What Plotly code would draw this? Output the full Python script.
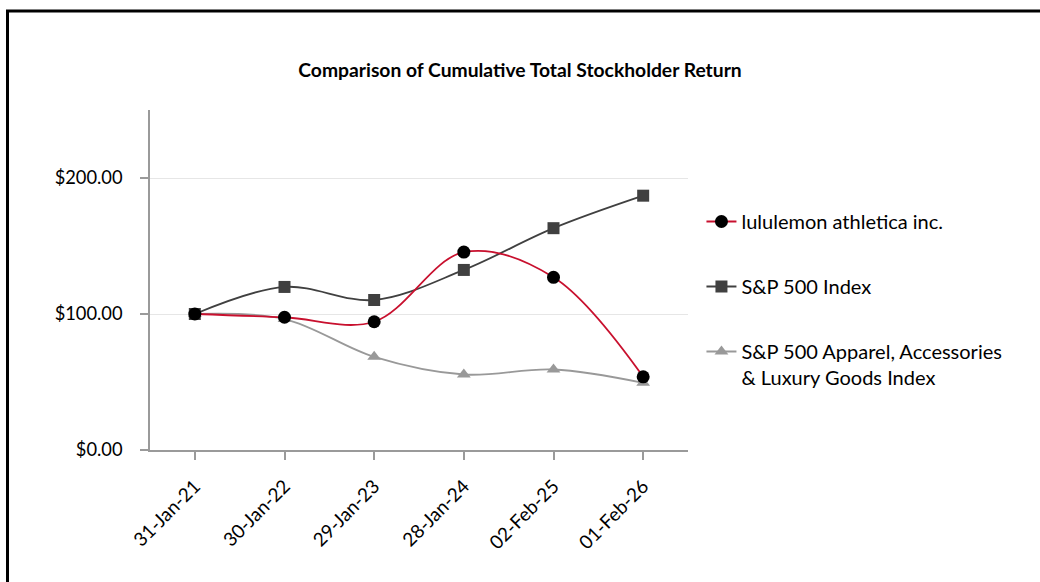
import plotly.graph_objects as go

dates = ["31-Jan-21", "30-Jan-22", "29-Jan-23", "28-Jan-24", "02-Feb-25", "01-Feb-26"]
lululemon = [100.0, 97.6, 94.3, 145.5, 127.0, 53.8]
sp500 = [100.0, 119.9, 110.3, 132.4, 163.1, 187.0]
apparel = [100.0, 96.3, 68.5, 55.5, 59.2, 49.4]
y_ticks = [0, 100, 200]
y_labels = ["$0.00", "$100.00", "$200.00"]

FONT = "Lato, 'Open Sans', sans-serif"

fig = go.Figure()
fig.add_trace(go.Scatter(
    x=dates, y=apparel, name="S&P 500 Apparel, Accessories<br>& Luxury Goods Index",
    mode="lines+markers", line=dict(color="#999999", width=1.8, shape="spline", smoothing=1),
    marker=dict(symbol="triangle-up", size=12, color="#999999"), legendgroup="c", legendrank=3))
fig.add_trace(go.Scatter(
    x=dates, y=sp500, name="S&P 500 Index",
    mode="lines+markers", line=dict(color="#404040", width=1.8, shape="spline", smoothing=1),
    marker=dict(symbol="square", size=12, color="#404040"), legendgroup="b", legendrank=2))
fig.add_trace(go.Scatter(
    x=dates, y=lululemon, name="lululemon athletica inc.",
    mode="lines+markers", line=dict(color="#C8102E", width=1.8, shape="spline", smoothing=1),
    marker=dict(symbol="circle", size=13, color="#000000"), legendgroup="a", legendrank=1))

fig.update_layout(
    width=1040, height=582,
    margin=dict(l=150, r=352, t=110, b=132),
    paper_bgcolor="white", plot_bgcolor="white",
    font=dict(family=FONT, size=17, color="#000000"),
    title=dict(text="<b>Comparison of Cumulative Total Stockholder Return</b>",
               x=0.5, xref="container", xanchor="center", y=1 - 70 / 582, yref="container",
               yanchor="middle", font=dict(family=FONT, size=19.3, color="#000000")),
    showlegend=True,
    legend=dict(x=1.025, y=(450 - 202) / 340, xanchor="left", yanchor="top",
                traceorder="grouped", tracegroupgap=36, valign="top",
                font=dict(family=FONT, size=20, color="#000000"),
                bgcolor="rgba(0,0,0,0)"),
    shapes=[dict(type="rect", xref="paper", yref="paper",
                 x0=(7.5 - 150) / 538, x1=(1050 - 150) / 538,
                 y0=(450 - 600) / 340, y1=(450 - 11) / 340,
                 line=dict(color="#000000", width=3), fillcolor="rgba(0,0,0,0)", layer="below")],
)
fig.update_xaxes(
    type="category", range=[-0.5, 5.5], showline=True, linecolor="#9a9a9a", linewidth=1.5,
    ticks="outside", ticklen=8, tickcolor="#9a9a9a", tickwidth=1.5, tickangle=-45,
    ticklabelstandoff=8,
    showgrid=False, zeroline=False, tickfont=dict(family=FONT, size=19))
fig.update_yaxes(
    range=[0, 250], tickvals=y_ticks, ticktext=y_labels, showline=True, linecolor="#9a9a9a",
    linewidth=1.5, ticks="outside", ticklen=8, tickcolor="#9a9a9a", tickwidth=1.5,
    ticklabelstandoff=14,
    showgrid=True, gridcolor="#e6e6e6", gridwidth=1, zeroline=False,
    tickfont=dict(family=FONT, size=18.3))

fig.write_html("out.html", config={"displayModeBar": False},
               post_script="document.body.style.margin='0px';")
